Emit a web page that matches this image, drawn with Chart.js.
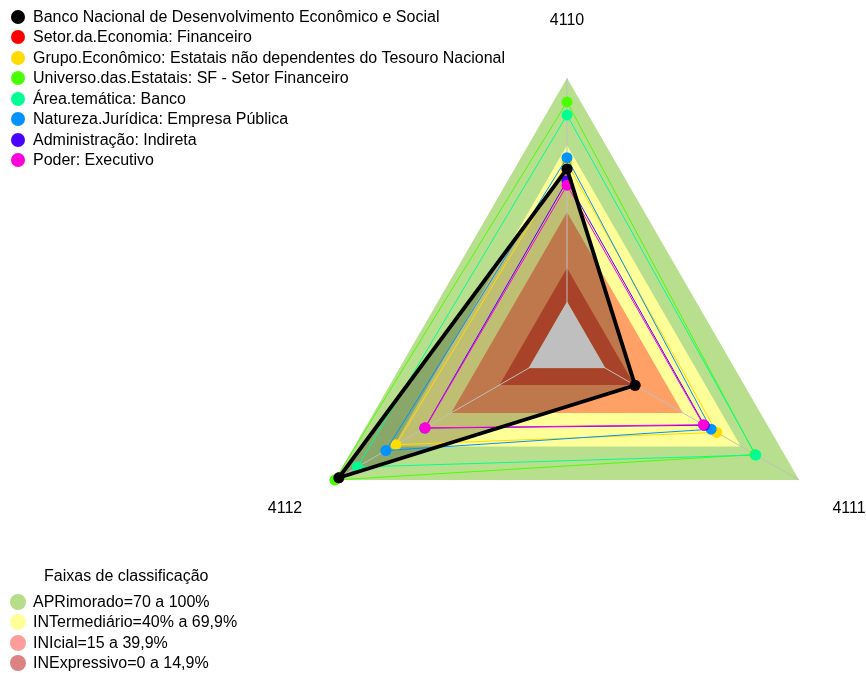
<!DOCTYPE html>
<html><head><meta charset="utf-8">
<script src="https://cdn.jsdelivr.net/npm/chart.js@4/dist/chart.umd.min.js"></script>
<style>
html,body{margin:0;padding:0;background:#fff;}
#wrap{position:relative;width:866px;height:673px;overflow:hidden;font-family:"Liberation Sans",Arial,sans-serif;}
#c{position:absolute;left:0;top:0;}
.row{position:absolute;left:0;height:20px;line-height:20px;font-size:16px;color:#000;white-space:nowrap;}
.row span.t{position:absolute;left:33px;top:0;}
.dot{position:absolute;border-radius:50%;}
.ltitle{position:absolute;left:44px;top:566px;font-size:16px;line-height:20px;color:#000;white-space:nowrap;}
</style></head>
<body>
<div id="wrap">
<canvas id="c" width="866" height="673"></canvas>
<div id="legTop"></div>
<div class="ltitle">Faixas de classificação</div>
<div id="legBot"></div>
</div>
<script>
// ---- data ----
const axisLabels = ['4110', '4111', '4112'];
const seriesNames = [
  'Banco Nacional de Desenvolvimento Econômico e Social',
  'Setor.da.Economia: Financeiro',
  'Grupo.Econômico: Estatais não dependentes do Tesouro Nacional',
  'Universo.das.Estatais: SF - Setor Financeiro',
  'Área.temática: Banco',
  'Natureza.Jurídica: Empresa Pública',
  'Administração: Indireta',
  'Poder: Executivo'
];
const seriesColors = ['#000000', '#FF0000', '#FFDB00', '#49FF00', '#00FF92', '#0092FF', '#4900FF', '#FF00DB'];
const bndes            = [59.3, 15.2, 98];
const setorEconomia    = [59.3, 15.2, 98];   // hidden under the main entity in the picture
const grupoEconomico   = [62.0, 57.4, 68.4];
const universoEstatais = [89.3, 77.2, 100];
const areaTematica     = [83.4, 77.6, 88.4];
const naturezaJuridica = [64.3, 54.5, 73.6];
const administracao    = [54.0, 51.0, 53.5];
const poder            = [52.0, 50.5, 53.3];
const seriesValues = [bndes, setorEconomia, grupoEconomico, universoEstatais, areaTematica, naturezaJuridica, administracao, poder];

const bandNames = ['APRimorado=70 a 100%', 'INTermediário=40% a 69,9%', 'INIcial=15 a 39,9%', 'INExpressivo=0 a 14,9%'];
const bandLimits = [100, 69.9, 39.9, 14.9];
const bandFill = ['#B8DF8E', '#FFFF9A', '#FFA066', '#E05A38'];
const bandLegendColors = ['#B5DD8A', '#FFFF9A', '#FF9C9C', '#DC8282'];
const scaleMin = -20, scaleMax = 100;

// ---- legends (HTML text) ----
const legTop = document.getElementById('legTop');
seriesNames.forEach((n, i) => {
  const r = document.createElement('div');
  r.className = 'row';
  r.style.top = (7 + i * 20.43) + 'px';
  r.innerHTML = '<div class="dot" style="left:11px;top:3px;width:14px;height:14px;background:' + seriesColors[i] + '"></div><span class="t"></span>';
  r.querySelector('.t').textContent = n;
  legTop.appendChild(r);
});
const legBot = document.getElementById('legBot');
bandNames.forEach((n, i) => {
  const r = document.createElement('div');
  r.className = 'row';
  r.style.top = (592 + i * 20.43) + 'px';
  r.innerHTML = '<div class="dot" style="left:10px;top:2px;width:16px;height:16px;background:' + bandLegendColors[i] + '"></div><span class="t"></span>';
  r.querySelector('.t').textContent = n;
  legBot.appendChild(r);
});

// ---- datasets ----
const datasets = [];
const drawOrder = [0, 7, 6, 5, 4, 3, 2, 1]; // black on top, later series above earlier ones
seriesValues.forEach((vals, i) => {
  datasets.push({
    label: seriesNames[i],
    data: vals,
    borderColor: seriesColors[i],
    backgroundColor: seriesColors[i],
    borderWidth: i === 0 ? 3.8 : 1,
    pointRadius: 5.5,
    pointBorderWidth: 0,
    pointBackgroundColor: seriesColors[i],
    fill: false,
    order: drawOrder[i]
  });
});
// translucent fill of the main entity
datasets.push({
  label: 'fill',
  data: bndes,
  borderColor: 'transparent',
  borderWidth: 0.001,
  pointRadius: 0,
  backgroundColor: 'rgba(0,0,0,0.25)',
  fill: 'start',
  order: 10
});
bandLimits.forEach((v, i) => {
  datasets.push({
    label: bandNames[i],
    data: axisLabels.map(() => v),
    borderColor: 'transparent',
    borderWidth: 0.001,
    pointRadius: 0,
    backgroundColor: bandFill[i],
    fill: 'origin',
    order: 20 - i
  });
});

const overlay = {
  id: 'overlay',
  beforeDatasetsDraw(chart) {
    const s = chart.scales.r, ctx = chart.ctx;
    ctx.save();
    ctx.strokeStyle = '#BFBFBF';
    ctx.lineWidth = 1;
    for (let i = 0; i < axisLabels.length; i++) {
      const a = s.getPointPositionForValue(i, scaleMin);
      const b = s.getPointPositionForValue(i, scaleMax);
      ctx.beginPath(); ctx.moveTo(a.x, a.y); ctx.lineTo(b.x, b.y); ctx.stroke();
    }
    ctx.restore();
  },
  afterDraw(chart) {
    const s = chart.scales.r, ctx = chart.ctx;
    ctx.save();
    ctx.font = '16px "Liberation Sans", Arial, sans-serif';
    ctx.fillStyle = '#000';
    ctx.textAlign = 'center';
    ctx.textBaseline = 'middle';
    axisLabels.forEach((l, i) => {
      const p = s.getPointPosition(i, s.drawingArea * 1.215);
      ctx.fillText(l, p.x, p.y);
    });
    ctx.restore();
  }
};

new Chart(document.getElementById('c'), {
  type: 'radar',
  data: { labels: axisLabels, datasets },
  options: {
    responsive: false,
    animation: false,
    layout: { padding: { left: 299, right: 31, top: 78, bottom: 59 } },
    elements: { line: { tension: 0 } },
    plugins: {
      legend: { display: false },
      tooltip: { enabled: false },
      filler: { drawTime: 'beforeDatasetsDraw' }
    },
    scales: {
      r: {
        min: scaleMin, max: scaleMax,
        ticks: { display: false },
        grid: { display: false },
        angleLines: { display: false },
        pointLabels: { display: false }
      }
    }
  },
  plugins: [overlay]
});
</script>
</body></html>
